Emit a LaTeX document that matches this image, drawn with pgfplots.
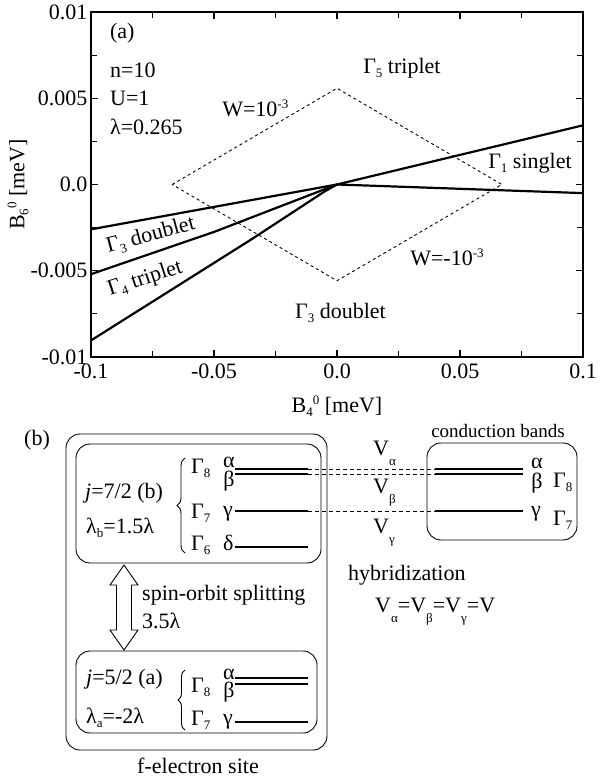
\documentclass[border=0pt]{standalone}
\usepackage{fontspec}
\setmainfont{Liberation Serif}
\usepackage{pgfplots}
\pgfplotsset{compat=1.18}
\usetikzlibrary{decorations.pathreplacing}
\newcommand{\fs}[1]{\fontsize{#1}{#1}\selectfont}
\newcommand{\sub}[1]{\raisebox{-4pt}{\fs{13}#1}}
\newcommand{\vsub}[1]{\raisebox{-10pt}{\fs{13}#1}}
\newcommand{\sups}[1]{\raisebox{8pt}{\fs{13}#1}}
\begin{document}
\begin{tikzpicture}
\useasboundingbox (0,0) rectangle (599pt,778pt);
% ---------------- panel (a) ----------------
\begin{axis}[
  at={(91pt,421pt)}, anchor=south west,
  scale only axis, width=492pt, height=345pt,
  xmin=-0.1, xmax=0.1, ymin=-0.01, ymax=0.01,
  xtick={-0.1,-0.05,0,0.05,0.1}, xticklabels={-0.1,-0.05,0.0,0.05,0.1},
  ytick={-0.01,-0.005,0,0.005,0.01}, yticklabels={-0.01,-0.005,0.0,0.005,0.01},
  minor x tick num=1, minor y tick num=1,
  tick align=inside, major tick length=7pt, minor tick length=6pt,
  axis line style={line width=1.5pt},
  every tick/.style={line width=1.1pt, black},
  tick label style={font=\fs{22}},
  xticklabel style={yshift=-3pt},
  /pgf/number format/assume math mode=true,
  scaled ticks=false,
  xlabel={B\sub{4}\sups{0} [meV]},
  ylabel={B\sub{6}\sups{0} [meV]},
  xlabel style={at={(axis description cs:0.5,-0.142)}, anchor=center, font=\fs{22}},
  ylabel style={at={(axis description cs:-0.148,0.5)}, anchor=center, font=\fs{22}},
  clip=false,
]
\addplot[line width=2.2pt, black] coordinates {(-0.1,-0.0026) (0,0) (0.1,0.00343)};
\addplot[line width=2.2pt, black] coordinates {(0,0) (0.1,-0.0005)};
\addplot[line width=2.2pt, black] coordinates {(-0.1,-0.0052) (-0.05,-0.00275) (-0.02,-0.0011) (0,0)};
\addplot[line width=2.2pt, black] coordinates {(-0.1,-0.00904) (-0.035,-0.0032) (-0.005,-0.0004) (0,0)};
\addplot[line width=0.9pt, black, dash pattern=on 3pt off 3pt] coordinates {(-0.067,0) (0,0.00558) (0.067,0) (0,-0.00558) (-0.067,0)};
\begin{scope}[every node/.style={inner sep=0, font=\fs{22}}]
\node[anchor=west] at (axis cs:-0.0923,0.00878) {(a)};
\node[anchor=west] at (axis cs:-0.0923,0.00664) {n=10};
\node[anchor=west] at (axis cs:-0.0923,0.00501) {U=1};
\node[anchor=west] at (axis cs:-0.0923,0.00333) {λ=0.265};
\node[anchor=west] at (axis cs:-0.0467,0.00443) {W=10\sups{-3}};
\node[anchor=west] at (axis cs:0.0106,0.00675) {Γ\sub{5} triplet};
\node[anchor=west] at (axis cs:0.0614,0.00125) {Γ\sub{1} singlet};
\node[anchor=west] at (axis cs:0.0297,-0.0042) {W=-10\sups{-3}};
\node[anchor=west] at (axis cs:-0.0171,-0.00745) {Γ\sub{3} doublet};
\node[rotate=15] at (axis cs:-0.0757,-0.00295) {Γ\sub{3} doublet};
\node[rotate=18] at (axis cs:-0.078,-0.00548) {Γ\sub{4} triplet};
\end{scope}
\end{axis}
% ---------------- panel (b) ----------------
\begin{axis}[
  at={(0pt,0pt)}, anchor=south west,
  scale only axis, width=599pt, height=778pt,
  xmin=0, xmax=599, ymin=0, ymax=778, y dir=reverse,
  hide axis, clip=false,
]
% boxes
\draw[line width=0.9pt, rounded corners=14pt] (axis cs:66,434) rectangle (axis cs:327,750);
\draw[line width=0.9pt, rounded corners=14pt] (axis cs:76,444) rectangle (axis cs:321,563);
\draw[line width=0.9pt, rounded corners=14pt] (axis cs:76,651) rectangle (axis cs:317,733);
\draw[line width=0.9pt, rounded corners=14pt] (axis cs:427,443) rectangle (axis cs:577,540);
% levels
\addplot[line width=1.1pt, black] coordinates {(235,469) (308,469)};
\addplot[line width=1.1pt, black] coordinates {(235,474) (308,474)};
\addplot[line width=1.1pt, black] coordinates {(235,511) (308,511)};
\addplot[line width=1.1pt, black] coordinates {(235,547) (308,547)};
\addplot[line width=1.1pt, black] coordinates {(235,678) (308,678)};
\addplot[line width=1.1pt, black] coordinates {(235,684) (308,684)};
\addplot[line width=1.1pt, black] coordinates {(235,722) (308,722)};
\addplot[line width=1.1pt, black] coordinates {(435,469) (523,469)};
\addplot[line width=1.1pt, black] coordinates {(435,474) (523,474)};
\addplot[line width=1.1pt, black] coordinates {(435,511) (523,511)};
% hybridization dashes
\addplot[line width=0.9pt, black, dash pattern=on 4pt off 3pt] coordinates {(308,469) (435,469)};
\addplot[line width=0.9pt, black, dash pattern=on 4pt off 3pt] coordinates {(308,474) (435,474)};
\addplot[line width=0.9pt, black, dash pattern=on 4pt off 3pt] coordinates {(308,511) (435,511)};
% braces
\draw[line width=0.9pt, decorate, decoration={brace, amplitude=8pt}] (axis cs:185,553) -- (axis cs:185,458);
\draw[line width=0.9pt, decorate, decoration={brace, amplitude=7pt}] (axis cs:185,730) -- (axis cs:185,670);
% double arrow
\addplot[line width=0.9pt, black, fill=white] coordinates {(124,565) (138,585) (131.5,585) (131.5,630) (138,630) (124,650) (110,630) (116.5,630) (116.5,585) (110,585) (124,565)};
\begin{scope}[every node/.style={inner sep=0, font=\fs{22}}]
\node at (axis cs:37,440) {(b)};
\node[anchor=base west] at (axis cs:85,498) {\textit{j}=7/2 (b)};
\node[anchor=base west] at (axis cs:86,533) {λ\sub{b}=1.5λ};
\node[anchor=base west] at (axis cs:86,684) {\textit{j}=5/2 (a)};
\node[anchor=base west] at (axis cs:86,723) {λ\sub{a}=-2λ};
% upper levels labels
\node[anchor=base west] at (axis cs:191,473) {Γ\sub{8}};
\node at (axis cs:229,462) {α};
\node at (axis cs:229,481) {β};
\node[anchor=base west] at (axis cs:191,518) {Γ\sub{7}};
\node[anchor=base west] at (axis cs:223,516) {γ};
\node[anchor=base west] at (axis cs:191,550) {Γ\sub{6}};
\node[anchor=base west] at (axis cs:223,550) {δ};
% lower levels labels
\node[anchor=base west] at (axis cs:191,692) {Γ\sub{8}};
\node at (axis cs:229,674) {α};
\node at (axis cs:229,692) {β};
\node[anchor=base west] at (axis cs:191,725) {Γ\sub{7}};
\node[anchor=base west] at (axis cs:223,724) {γ};
% spin-orbit
\node[anchor=base west] at (axis cs:142,600) {spin-orbit splitting};
\node[anchor=base west] at (axis cs:142,628) {3.5λ};
\node[anchor=base] at (axis cs:198,773) {f-electron site};
% conduction
\node[anchor=base, font=\fs{19}] at (axis cs:498,437) {conduction bands};
\node at (axis cs:537,463) {α};
\node at (axis cs:537,483) {β};
\node[anchor=base west] at (axis cs:553,487) {Γ\sub{8}};
\node[anchor=base west] at (axis cs:531,516) {γ};
\node[anchor=base west] at (axis cs:553,525) {Γ\sub{7}};
% hybridization
\node[anchor=base west] at (axis cs:373,455) {V\vsub{α}};
\node[anchor=base west] at (axis cs:373,493) {V\vsub{β}};
\node[anchor=base west] at (axis cs:373,533) {V\vsub{γ}};
\node[anchor=base west] at (axis cs:348,580) {hybridization};
\node[anchor=base west] at (axis cs:375,612) {V\vsub{α}=V\vsub{β}=V\vsub{γ}=V};
\end{scope}
\end{axis}
\end{tikzpicture}
\end{document}
